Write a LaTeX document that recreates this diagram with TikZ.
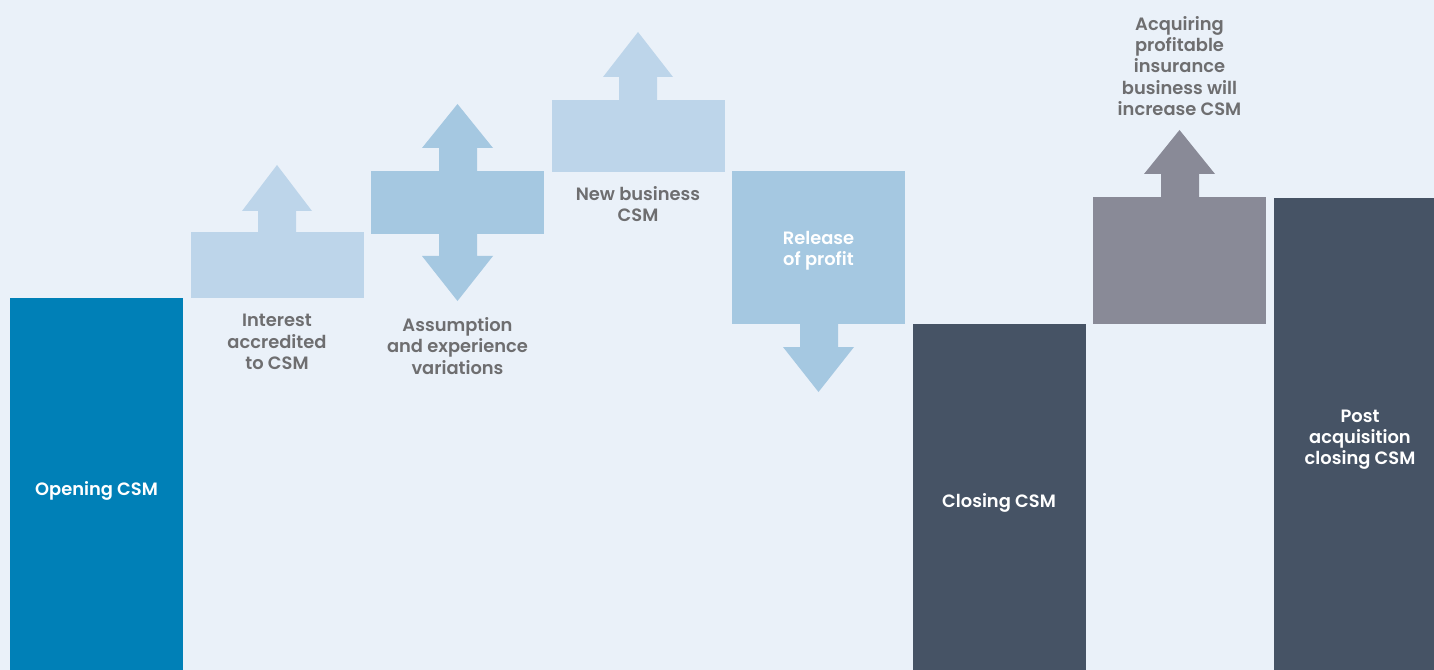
\documentclass[tikz,border=0pt]{standalone}
\usepackage{fontspec}
\setmainfont{Poppins}[BoldFont={Poppins SemiBold}]
\usepackage{tikz}

\definecolor{bgblue}{RGB}{234,241,249}
\definecolor{paleblue}{RGB}{189,213,234}
\definecolor{midblue}{RGB}{165,200,225}
\definecolor{openblue}{RGB}{0,128,183}
\definecolor{slate}{RGB}{70,83,101}
\definecolor{greyviolet}{RGB}{137,138,151}
\definecolor{labelgrey}{RGB}{110,110,112}

\begin{document}
\begin{tikzpicture}[x=0.75pt,y=0.75pt,yscale=-1,
  greylabel/.style={anchor=center,inner sep=0pt,align=center,text=labelgrey,font=\fontsize{13.4}{15.9}\selectfont\bfseries},
  whitelabel/.style={anchor=center,inner sep=0pt,align=center,text=white,font=\fontsize{13.4}{15.9}\selectfont\bfseries}]

%Background
\fill [bgblue] (0,0) rectangle (1434,670) ;

%Opening bar
\fill [openblue] (10,298) rectangle (183,670) ;
%Interest box and arrow
\fill [paleblue] (191,232) rectangle (364,298) ;
\fill [paleblue] (258,232) -- (258,211) -- (242,211) -- (277,165) -- (312,211) -- (296,211) -- (296,232) -- cycle ;
%Assumption box and double arrow
\fill [midblue] (371,171) rectangle (544,234) ;
\fill [midblue] (439,171) -- (439,148) -- (422,148) -- (457.5,104) -- (493,148) -- (477,148) -- (477,171) -- cycle ;
\fill [midblue] (439,234) -- (439,256) -- (422,256) -- (457.5,301) -- (493,256) -- (477,256) -- (477,234) -- cycle ;
%New business box and arrow
\fill [paleblue] (552,100) rectangle (725,172) ;
\fill [paleblue] (619,100) -- (619,77) -- (603,77) -- (638,32) -- (673,77) -- (657,77) -- (657,100) -- cycle ;
%Release box and arrow
\fill [midblue] (732,171) rectangle (905,324) ;
\fill [midblue] (800,324) -- (800,347) -- (783,347) -- (818.5,392) -- (854,347) -- (838,347) -- (838,324) -- cycle ;
%Closing bar
\fill [slate] (913,324) rectangle (1086,670) ;
%Acquiring box and arrow
\fill [greyviolet] (1093,197) rectangle (1266,324) ;
\fill [greyviolet] (1161,197) -- (1161,174) -- (1144,174) -- (1179.5,130) -- (1215,174) -- (1199,174) -- (1199,197) -- cycle ;
%Post acquisition bar
\fill [slate] (1274,198) rectangle (1434,670) ;

% Text Nodes
\node [whitelabel] (opening) at (96.5,491) {Opening CSM};
\node [greylabel] (interest) at (277,342) {Interest\\accredited\\to CSM};
\node [greylabel] (assumption) at (457.5,346) {Assumption\\and experience\\variations};
\node [greylabel] (newbiz) at (638,204) {New business\\CSM};
\node [whitelabel] (release) at (818.5,251) {Release\\of profit};
\node [whitelabel] (closing) at (999,503) {Closing CSM};
\node [greylabel] (acquiring) at (1179.5,66) {Acquiring\\profitable\\insurance\\business will\\increase CSM};
\node [whitelabel] (postacq) at (1360,440) {Post\\acquisition\\closing CSM};
\end{tikzpicture}
\end{document}
